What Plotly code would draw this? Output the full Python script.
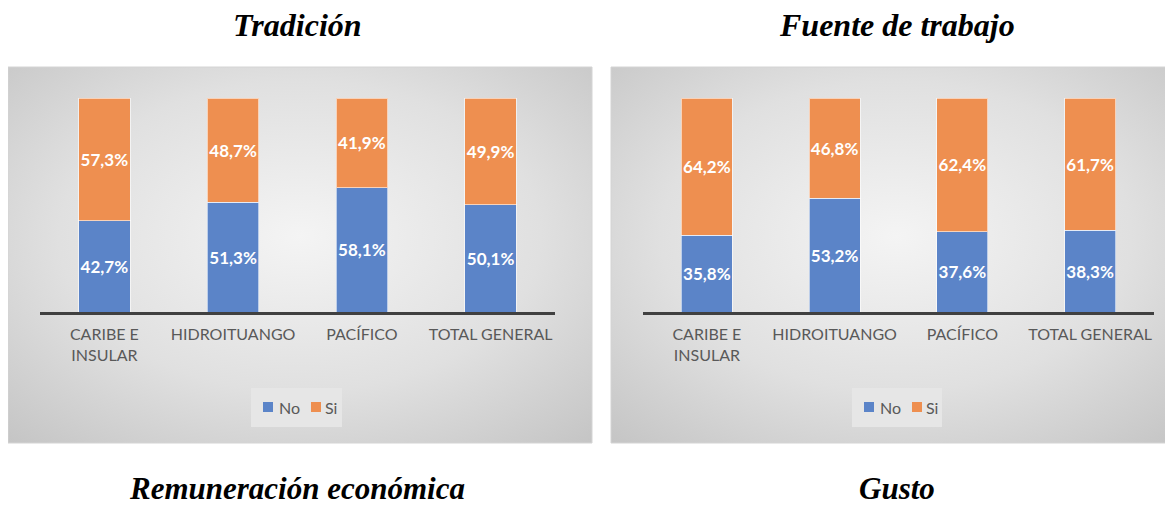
import base64
import plotly.graph_objects as go

# ---------------- data ----------------
categories = ["CARIBE E<br>INSULAR", "HIDROITUANGO", "PACÍFICO", "TOTAL GENERAL"]
tradicion_no = [42.7, 51.3, 58.1, 50.1]
tradicion_si = [57.3, 48.7, 41.9, 49.9]
fuente_no = [35.8, 53.2, 37.6, 38.3]
fuente_si = [64.2, 46.8, 62.4, 61.7]
series_names = ["No", "Si"]
top_titles = ["Tradición", "Fuente de trabajo"]
bottom_titles = ["Remuneración económica", "Gusto"]

# ---------------- styling ----------------
W, H = 1173, 506
OFF = 8  # page body margin
BLUE = "#5b84c8"
ORANGE = "#ee8f50"
LABEL_FONT = "Lato"


def px_x(x):
    return (x - OFF) / W


def px_y(y):
    return 1 - (y - OFF) / H


def fmt(v):
    return f"{v:.1f}%".replace(".", ",")


svg = (
    "<svg xmlns='http://www.w3.org/2000/svg' width='600' height='400' preserveAspectRatio='none'>"
    "<defs><radialGradient id='g' cx='50%' cy='45%' r='75%'>"
    "<stop offset='0%' stop-color='#f4f4f4'/>"
    "<stop offset='55%' stop-color='#e0e0e0'/>"
    "<stop offset='100%' stop-color='#c4c4c4'/>"
    "</radialGradient></defs>"
    "<rect width='600' height='400' fill='url(#g)'/></svg>"
)
svg_uri = "data:image/svg+xml;base64," + base64.b64encode(svg.encode()).decode()

fig = go.Figure()

panels = [
    dict(no=tradicion_no, si=tradicion_si, xa="x", ya="y",
         bg=(8, 592), leg=(251, 342), lx=0),
    dict(no=fuente_no, si=fuente_si, xa="x2", ya="y2",
         bg=(611, 1181), leg=(852, 942), lx=601),
]

for p in panels:
    for name, vals, col in [(series_names[0], p["no"], BLUE), (series_names[1], p["si"], ORANGE)]:
        fig.add_trace(go.Bar(
            x=categories, y=vals, name=name,
            marker=dict(color=col, line=dict(color="rgba(255,255,255,0.6)", width=1)),
            text=[fmt(v) for v in vals],
            textposition="inside", insidetextanchor="middle", textangle=0,
            constraintext="none",
            textfont=dict(family=LABEL_FONT, size=17, color="white", weight="bold"),
            xaxis=p["xa"], yaxis=p["ya"], showlegend=False,
            hoverinfo="skip",
        ))

y_dom = (px_y(312), px_y(98))
axis_common = dict(
    showgrid=False, zeroline=False, ticks="",
    tickfont=dict(family=LABEL_FONT, size=16, color="#595959"),
    showline=True, linecolor="#404040", linewidth=3,
    ticklabelstandoff=6,
)
yaxis_common = dict(range=[0, 100], visible=False, fixedrange=True)

fig.update_layout(
    width=W, height=H,
    margin=dict(l=0, r=0, t=0, b=0),
    paper_bgcolor="white", plot_bgcolor="rgba(0,0,0,0)",
    barmode="stack", bargap=0.6,
    xaxis=dict(domain=[px_x(40), px_x(555)], anchor="y", **axis_common),
    xaxis2=dict(domain=[px_x(643), px_x(1154)], anchor="y2", **axis_common),
    yaxis=dict(domain=list(y_dom), anchor="x", **yaxis_common),
    yaxis2=dict(domain=list(y_dom), anchor="x2", **yaxis_common),
    showlegend=False,
)

images = []
shapes = []
for p in panels:
    x0, x1 = p["bg"]
    images.append(dict(source=svg_uri, xref="paper", yref="paper",
                       x=px_x(x0), y=px_y(67), sizex=px_x(x1) - px_x(x0), sizey=px_y(67) - px_y(443),
                       xanchor="left", yanchor="top", sizing="stretch", layer="below"))
    shapes.append(dict(type="rect", xref="paper", yref="paper",
                       x0=px_x(x0), x1=px_x(x1), y0=px_y(443), y1=px_y(67),
                       line=dict(color="#d4d4d4", width=1), fillcolor="rgba(0,0,0,0)", layer="below"))
    lx0, lx1 = p["leg"]
    shapes.append(dict(type="rect", xref="paper", yref="paper",
                       x0=px_x(lx0), x1=px_x(lx1), y0=px_y(427), y1=px_y(388),
                       line=dict(width=0), fillcolor="#e6e6e6", layer="below"))
    # legend: colored squares + series names
    dx = p["lx"]
    for (sq0, tx), name, col in zip([(263, 277), (311, 323)], series_names, [BLUE, ORANGE]):
        shapes.append(dict(type="rect", xref="paper", yref="paper",
                           x0=px_x(sq0 + dx), x1=px_x(sq0 + dx + 10), y0=px_y(412), y1=px_y(402),
                           line=dict(width=0), fillcolor=col, layer="above"))
        fig.add_annotation(text=name, x=px_x(tx + dx), y=px_y(407), xref="paper", yref="paper",
                           xanchor="left", yanchor="middle", showarrow=False,
                           font=dict(family=LABEL_FONT, size=16, color="#595959"))
fig.update_layout(images=images, shapes=shapes)

title_font = dict(family="Liberation Serif", size=32, color="black")
for txt, cx in zip(top_titles, [297, 897]):
    fig.add_annotation(text=f"<b><i>{txt}</i></b>", x=px_x(cx), y=px_y(25), xref="paper", yref="paper",
                       xanchor="center", yanchor="middle", showarrow=False, font=title_font)
bottom_font = dict(family="Liberation Serif", size=31, color="black")
for txt, cx in zip(bottom_titles, [297, 897]):
    fig.add_annotation(text=f"<b><i>{txt}</i></b>", x=px_x(cx), y=px_y(488), xref="paper", yref="paper",
                       xanchor="center", yanchor="middle", showarrow=False, font=bottom_font)

fig.write_html("out.html")
